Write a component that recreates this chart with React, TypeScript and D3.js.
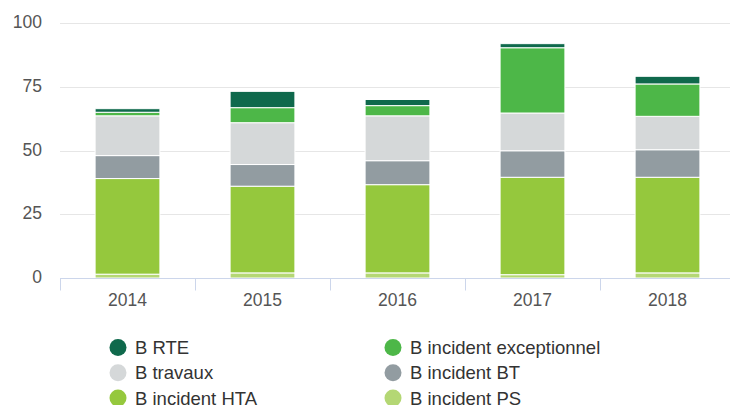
import { useEffect, useRef } from 'react';
import * as d3 from 'd3';

const years = ['2014', '2015', '2016', '2017', '2018'];
const seriesNames = ['B incident PS', 'B incident HTA', 'B incident BT', 'B travaux', 'B incident exceptionnel', 'B RTE'];
const incidentPS = [1.5, 2.0, 2.0, 1.3, 2.0];
const incidentHTA = [37.5, 34.0, 34.6, 38.2, 37.5];
const incidentBT = [9.0, 8.5, 9.4, 10.4, 10.8];
const travaux = [15.6, 16.4, 17.6, 14.8, 13.1];
const exceptionnel = [1.4, 5.9, 4.0, 25.6, 12.7];
const rte = [1.4, 6.4, 2.4, 1.6, 3.0];
const yTicks = [0, 25, 50, 75, 100];

const colors: Record<string, string> = {
  'B RTE': '#0f694c',
  'B incident exceptionnel': '#4db748',
  'B travaux': '#d5d8d9',
  'B incident BT': '#929ca1',
  'B incident HTA': '#95c83d',
  'B incident PS': '#b4d774',
};

// legend order, two columns
const legendOrder = ['B RTE', 'B incident exceptionnel', 'B travaux', 'B incident BT', 'B incident HTA', 'B incident PS'];

export default function App() {
  const svgRef = useRef<SVGSVGElement>(null);

  useEffect(() => {
    document.body.style.margin = '0';
    if (!svgRef.current) return;

    const width = 730;
    const height = 405;
    const margin = { top: 23, right: -5, bottom: 127, left: 60 };
    const font = '"Liberation Sans", Arial, Helvetica, sans-serif';

    const svg = d3.select(svgRef.current);
    svg.selectAll('*').remove();
    svg.attr('width', width).attr('height', height);

    const table = years.map((year, i) => ({
      year,
      'B incident PS': incidentPS[i],
      'B incident HTA': incidentHTA[i],
      'B incident BT': incidentBT[i],
      'B travaux': travaux[i],
      'B incident exceptionnel': exceptionnel[i],
      'B RTE': rte[i],
    }));

    const x = d3.scaleBand<string>()
      .domain(years)
      .range([margin.left, width - margin.right])
      .padding(0);

    const y = d3.scaleLinear()
      .domain([0, 100])
      .range([height - margin.bottom, margin.top]);

    // grid
    svg.append('g')
      .selectAll('line')
      .data(yTicks.filter(t => t > 0))
      .join('line')
      .attr('x1', margin.left)
      .attr('x2', width)
      .attr('y1', d => Math.round(y(d)) + 0.5)
      .attr('y2', d => Math.round(y(d)) + 0.5)
      .attr('stroke', '#e6e6e6')
      .attr('stroke-width', 1);

    // y labels
    svg.append('g')
      .selectAll('text')
      .data(yTicks)
      .join('text')
      .attr('x', 42)
      .attr('y', d => y(d) - 1)
      .attr('dy', '0.35em')
      .attr('text-anchor', 'end')
      .attr('font-family', font)
      .attr('font-size', 17.5)
      .attr('fill', '#555')
      .text(d => d);

    const stack = d3.stack<any>().keys(seriesNames);
    const layers = stack(table);

    const barW = x.bandwidth() * 0.48;

    svg.append('g')
      .selectAll('g')
      .data(layers)
      .join('g')
      .attr('fill', d => colors[d.key])
      .selectAll('rect')
      .data(d => d)
      .join('rect')
      .attr('x', d => x(d.data.year)! + (x.bandwidth() - barW) / 2)
      .attr('width', barW)
      .attr('y', d => y(d[1]))
      .attr('height', d => y(d[0]) - y(d[1]))
      .attr('stroke', '#fff')
      .attr('stroke-width', 1);

    // x axis
    const axisY = Math.round(y(0)) + 0.5;
    svg.append('line')
      .attr('x1', margin.left)
      .attr('x2', width)
      .attr('y1', axisY)
      .attr('y2', axisY)
      .attr('stroke', '#ccd6eb');

    const step = x.step();
    svg.append('g')
      .selectAll('line')
      .data(years)
      .join('line')
      .attr('x1', d => Math.round(x(d)!) + 0.5)
      .attr('x2', d => Math.round(x(d)!) + 0.5)
      .attr('y1', axisY)
      .attr('y2', axisY + 12)
      .attr('stroke', '#ccd6eb');

    svg.append('g')
      .selectAll('text')
      .data(years)
      .join('text')
      .attr('x', d => x(d)! + step / 2)
      .attr('y', axisY + 27)
      .attr('text-anchor', 'middle')
      .attr('font-family', font)
      .attr('font-size', 17.5)
      .attr('fill', '#555')
      .text(d => d);

    // legend
    const legend = svg.append('g');
    legendOrder.forEach((name, i) => {
      const col = i % 2;
      const row = Math.floor(i / 2);
      const lx = 118 + col * 275;
      const ly = 347.5 + row * 25.3;
      legend.append('circle')
        .attr('cx', lx)
        .attr('cy', ly)
        .attr('r', 8.5)
        .attr('fill', colors[name]);
      legend.append('text')
        .attr('x', lx + 17)
        .attr('y', ly)
        .attr('dy', '0.36em')
        .attr('font-family', font)
        .attr('font-size', 18.5)
        .attr('fill', '#333')
        .text(name);
    });
  }, []);

  return <svg ref={svgRef} style={{ display: 'block' }}></svg>;
}
